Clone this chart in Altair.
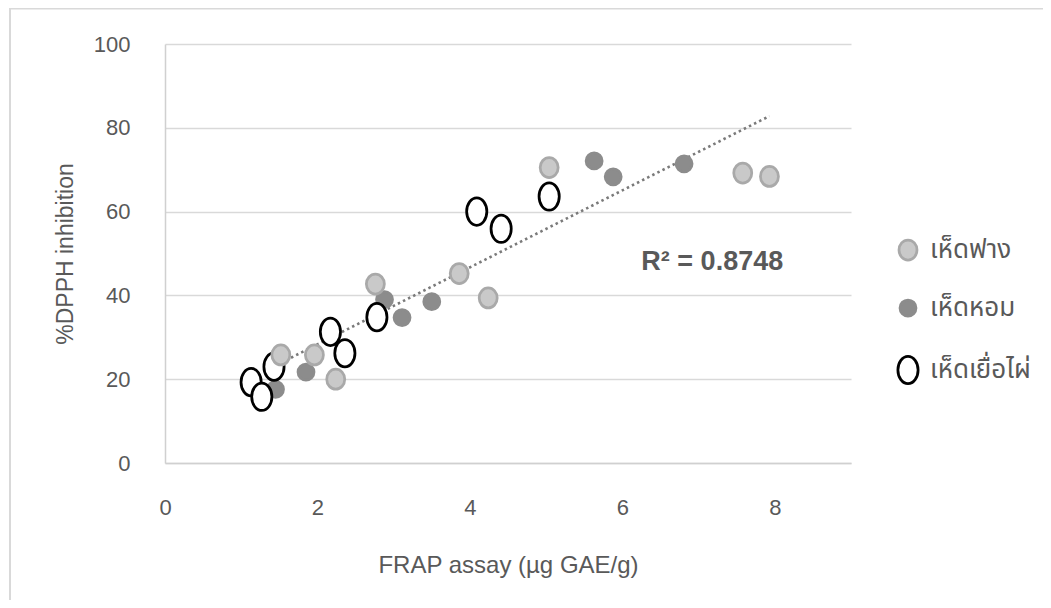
import altair as alt
import pandas as pd

# ---- data ----
series_names = ["เห็ดฟาง", "เห็ดหอม", "เห็ดเยื่อไผ่"]

fang_x = [1.52, 1.96, 2.24, 2.76, 3.86, 4.24, 5.04, 7.58, 7.93]
fang_y = [25.8, 25.8, 20.0, 42.7, 45.2, 39.4, 70.5, 69.2, 68.4]

hom_x = [1.45, 1.85, 2.88, 3.11, 3.50, 5.63, 5.88, 6.81]
hom_y = [17.6, 21.7, 39.0, 34.7, 38.5, 72.1, 68.3, 71.4]

yua_x = [1.13, 1.27, 1.43, 2.17, 2.36, 2.78, 4.09, 4.41, 5.04]
yua_y = [19.3, 15.8, 23.0, 31.3, 26.2, 34.8, 60.0, 55.9, 63.6]

trend_x = [1.52, 7.93]
trend_y = [23.9, 82.8]

r2_label = ["R² = 0.8748"]
r2_x = [7.18]
r2_y = [48.0]

x_ticks = [0, 2, 4, 6, 8]
y_ticks = [0, 20, 40, 60, 80, 100]

# ---- build tables ----
rows = []
for name, xs, ys in [(series_names[1], hom_x, hom_y),
                     (series_names[2], yua_x, yua_y),
                     (series_names[0], fang_x, fang_y)]:
    for i, (xv, yv) in enumerate(zip(xs, ys)):
        rows.append({"series": name, "x": xv, "y": yv, "ord": len(rows)})
df = pd.DataFrame(rows)
trend_df = pd.DataFrame({"x": trend_x, "y": trend_y})
r2_df = pd.DataFrame({"label": r2_label, "x": r2_x, "y": r2_y})


def ellipse(rx, ry):
    return f"M {-rx} 0 A {rx} {ry} 0 1 0 {rx} 0 A {rx} {ry} 0 1 0 {-rx} 0 Z"


shape_range = [ellipse(9.0, 10.0), ellipse(8.0, 8.0), ellipse(10.1, 13.7)]
fill_range = ["#c9c9c9", "#8c8c8c", "#ffffff"]
stroke_range = ["#a9a9a9", "#8c8c8c", "#000000"]

GREY = "#595959"
FONT = "Liberation Sans"
THAI_FONT = "Waree, Tahoma, Leelawadee UI, Noto Sans Thai, Loma, Garuda, sans-serif"

x_scale = alt.Scale(domain=[0, 9], nice=False, zero=True)
y_scale = alt.Scale(domain=[0, 100], nice=False)

x_axis = alt.Axis(values=x_ticks, format="d", grid=False, ticks=False, domain=True,
                  labelFlush=False,
                  domainColor="#d0d0d0", domainWidth=1.5,
                  labelFontSize=22, labelColor=GREY, labelFont=FONT, labelPadding=34,
                  title="FRAP assay (µg GAE/g)", titleFontSize=24, titleColor=GREY,
                  titleFont=FONT, titleFontWeight="normal", titleY=102,
                  titleBaseline="middle")
y_axis = alt.Axis(values=y_ticks, format="d", grid=True, gridColor="#d9d9d9", gridWidth=1.5,
                  labelFlush=False,
                  ticks=False, domain=True, domainColor="#d0d0d0", domainWidth=1.5,
                  labelFontSize=22, labelColor=GREY, labelFont=FONT, labelPadding=35,
                  title="%DPPH inhibition", titleFontSize=23, titleColor=GREY,
                  titleFont=FONT, titleFontWeight="normal", titleX=-100, titleY=209.5,
                  titleBaseline="middle", titleAngle=270)

frame = alt.Chart(pd.DataFrame({"a": [0]})).mark_rect(
    fill="transparent", stroke="#d9d9d9", strokeWidth=2
).encode(x=alt.value(-155), x2=alt.value(900), y=alt.value(-35.5), y2=alt.value(600))

trend = alt.Chart(trend_df).mark_line(
    color="#7a7a7a", strokeWidth=2.6, strokeDash=[2.5, 3.2]
).encode(x=alt.X("x:Q", scale=x_scale, axis=x_axis),
         y=alt.Y("y:Q", scale=y_scale, axis=y_axis))

legend = alt.Legend(title=None, orient="none", legendX=730, legendY=193,
                    symbolSize=4, symbolStrokeWidth=2.75, labelOffset=9,
                    labelFontSize=26, labelColor=GREY, labelFont=THAI_FONT,
                    rowPadding=28, padding=0, labelLimit=300)

points = alt.Chart(df).mark_point(
    filled=True, opacity=1, size=4, strokeWidth=2.75
).encode(
    x=alt.X("x:Q", scale=x_scale, axis=x_axis),
    y=alt.Y("y:Q", scale=y_scale, axis=y_axis),
    fill=alt.Fill("series:N", scale=alt.Scale(domain=series_names, range=fill_range), legend=legend),
    stroke=alt.Stroke("series:N", scale=alt.Scale(domain=series_names, range=stroke_range), legend=legend),
    shape=alt.Shape("series:N", scale=alt.Scale(domain=series_names, range=shape_range), legend=legend),
    order=alt.Order("ord:Q"),
)

r2 = alt.Chart(r2_df).mark_text(
    fontSize=27, fontWeight="bold", color=GREY, font=FONT, align="center", baseline="middle"
).encode(x=alt.X("x:Q", scale=x_scale), y=alt.Y("y:Q", scale=y_scale), text="label:N")

chart = alt.layer(frame, trend, points, r2).properties(
    width=686, height=419,
    padding={"left": 157, "top": 36, "right": 192, "bottom": 137},
    autosize=alt.AutoSizeParams(type="none"),
    background="white",
).configure_view(stroke=None)

chart.save("out.html", embed_options={"renderer": "svg", "actions": False})
